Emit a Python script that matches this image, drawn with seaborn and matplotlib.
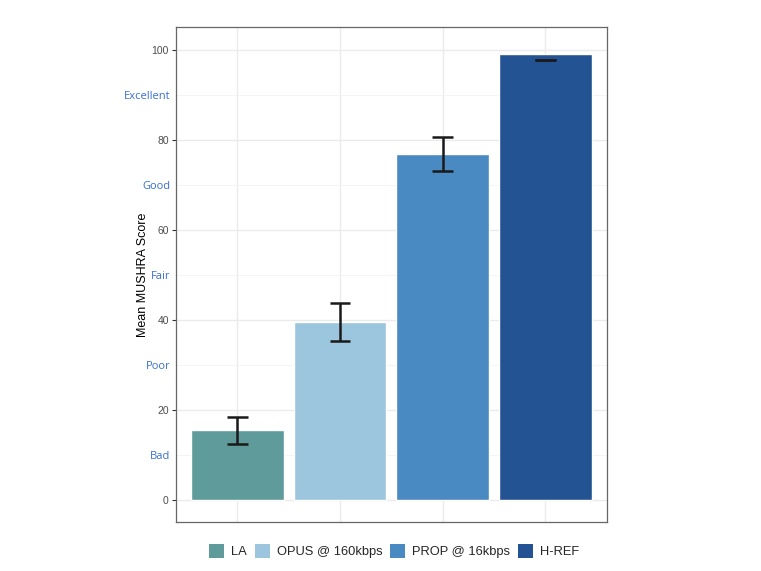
import matplotlib
matplotlib.use("Agg")
import matplotlib.pyplot as plt
import seaborn as sns
import pandas as pd
import numpy as np
from matplotlib.patches import Patch
from matplotlib.ticker import FixedLocator

conditions = ["LA", "OPUS @ 160kbps", "PROP @ 16kbps", "H-REF"]
mean_scores = [15.4, 39.4, 76.8, 98.9]
ci_low = [12.4, 35.3, 73.1, 97.7]
ci_high = [18.4, 43.7, 80.6, 97.7]
bar_colors = ["#5F9B9A", "#9BC6DE", "#4A8AC2", "#245394"]
major_ticks = [0, 20, 40, 60, 80, 100]
quality_ticks = [10, 30, 50, 70, 90]
quality_labels = ["Bad", "Poor", "Fair", "Good", "Excellent"]

df = pd.DataFrame({"Condition": conditions, "Score": mean_scores})

sns.set_theme(style="white")
plt.rcParams['font.family'] = ['Liberation Sans', 'DejaVu Sans']

fig = plt.figure(figsize=(7.61, 5.71), dpi=100)
ax = fig.add_axes([0.2309, 0.0858, 0.7976 - 0.2309, 0.9527 - 0.0858])

sns.barplot(data=df, x="Condition", y="Score", hue="Condition",
            palette=dict(zip(conditions, bar_colors)), order=conditions,
            dodge=False, width=0.9, saturation=1, legend=False, ax=ax,
            zorder=2, errorbar=None)

x = np.arange(len(conditions))
cap = 0.1
ax.vlines(x, ci_low, ci_high, colors="#1a1a1a", lw=1.8, zorder=3)
ax.hlines(ci_low, x - cap, x + cap, colors="#1a1a1a", lw=1.8, zorder=3)
ax.hlines(ci_high, x - cap, x + cap, colors="#1a1a1a", lw=1.8, zorder=3)

ax.set_xlim(-0.6, 3.6)
ax.set_ylim(-5, 105)
ax.yaxis.set_major_locator(FixedLocator(major_ticks))
ax.set_yticklabels([str(t) for t in major_ticks])
ax.yaxis.set_minor_locator(FixedLocator(quality_ticks))
ax.set_yticklabels(quality_labels, minor=True)
ax.tick_params(axis="y", which="major", length=3, width=0.8, color="#333333",
               labelsize=7.5, labelcolor="#4D4D4D", pad=2, left=True)
ax.tick_params(axis="y", which="minor", length=0, labelsize=8,
               labelcolor="#3A6FD0", pad=4, left=True)
for lab in ax.get_yticklabels(minor=True):
    lab.set_family(["Open Sans", "DejaVu Sans"])
ax.set_xticks(x)
ax.set_xticklabels([])
ax.tick_params(axis="x", length=0)
ax.set_xlabel("")
ax.set_ylabel("Mean MUSHRA Score", fontsize=9, color="black")
ax.yaxis.set_label_coords(-0.062, 0.5)

ax.grid(True, which="major", axis="both", color="#EBEBEB", lw=1.0, zorder=0)
ax.grid(True, which="minor", axis="y", color="#F3F3F3", lw=0.6, zorder=0)
ax.set_axisbelow(True)
for s in ax.spines.values():
    s.set_visible(True)
    s.set_color("#666666")
    s.set_linewidth(0.9)

handles = [Patch(facecolor=c, edgecolor="none", label=l) for c, l in zip(bar_colors, conditions)]
fig.legend(handles=handles, loc="center", bbox_to_anchor=(394/761, 1 - 551/571),
           ncol=4, frameon=False, fontsize=9.3, handlelength=1.16, handleheight=1.3,
           handletextpad=0.55, columnspacing=0.6)

fig.savefig("out.png", dpi=100)
